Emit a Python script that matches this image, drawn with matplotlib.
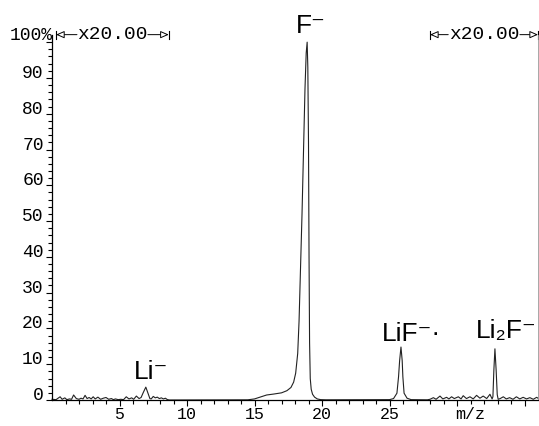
import numpy as np
import matplotlib
matplotlib.use("Agg")
import matplotlib.pyplot as plt
from matplotlib.transforms import blended_transform_factory

# Negative-ion spectrum, intensity in % of base peak (windows below 8.7 and above 28 shown x20)
mz_low = [0.0, 0.3, 0.45, 0.6, 0.75, 0.95, 1.1, 1.3, 1.45, 1.6, 1.8, 2.0, 2.15, 2.3,
          2.45, 2.6, 2.75, 2.9, 3.05, 3.2, 3.4, 3.6, 3.8, 4.0, 4.2, 4.4, 4.55, 4.7,
          4.9, 5.1, 5.3, 5.5, 5.7, 5.9, 6.05, 6.25, 6.45, 6.6, 6.75, 6.95, 7.1, 7.25,
          7.35, 7.5, 7.65, 7.8, 7.95, 8.1, 8.25, 8.4, 8.55, 8.7]
int_low = [0.2, 0.1, 0.5, 0.9, 0.2, 0.6, 0.1, 0.3, 0.2, 1.4, 0.4, 0.2, 0.5, 0.3,
           1.3, 0.4, 0.7, 0.3, 0.9, 0.3, 0.8, 0.2, 0.5, 0.7, 0.2, 0.4, 0.1, 0.3,
           0.1, 0.2, 0.1, 0.9, 0.3, 0.6, 0.2, 1.1, 0.4, 0.7, 2.0, 3.6, 2.0, 0.4,
           0.3, 1.0, 0.6, 0.8, 0.4, 0.6, 0.3, 0.5, 0.1, 0.0]

mz_f = [14.5, 15.0, 15.5, 15.9, 16.4, 17.0, 17.4, 17.7, 17.9, 18.05, 18.2, 18.3,
        18.4, 18.52, 18.63, 18.74, 18.83, 18.9, 18.95, 19.0, 19.04, 19.08, 19.13,
        19.2, 19.3, 19.45, 19.65, 19.9, 20.3]
int_f = [0.05, 0.3, 0.9, 1.4, 1.65, 2.0, 2.6, 3.5, 5.0, 7.5, 13, 22,
         36, 52, 70, 87, 97, 100, 93, 72, 40, 16, 6,
         3, 1.6, 0.8, 0.3, 0.1, 0.05]

mz_lif = [25.0, 25.3, 25.55, 25.67, 25.75, 25.85, 25.94, 25.99, 26.08, 26.3, 26.6, 27.8]
int_lif = [0.1, 0.4, 1.9, 6.5, 11, 14.8, 11, 6.5, 1.9, 0.5, 0.1, 0.05]

mz_high = [28.0, 28.25, 28.45, 28.74, 28.95, 29.23, 29.4, 29.6, 29.8, 30.1, 30.3,
           30.46, 30.7, 30.96, 31.2, 31.45, 31.7, 31.94, 32.2, 32.44, 32.6, 32.66,
           32.73, 32.81, 32.9, 32.98, 33.05, 33.2, 33.43, 33.65, 33.9, 34.15, 34.4,
           34.65, 34.9, 35.15, 35.4, 35.65, 35.9, 36.0]
int_high = [0.2, 0.65, 0.2, 1.1, 0.3, 0.75, 0.3, 0.9, 0.4, 0.9, 0.3,
            1.2, 0.4, 0.9, 0.3, 1.3, 0.5, 1.1, 0.4, 1.6, 0.3, 0.9,
            8.3, 14.3, 8.3, 1.5, 0.2, 0.4, 0.9, 0.3, 0.65, 0.2, 0.9,
            0.3, 0.75, 0.3, 0.65, 0.2, 0.75, 0.5]

peak_labels = ['Li\u207b', 'F\u207b', 'LiF\u207b\u00b7', 'Li\u2082F\u207b']
label_pos = [(6.06, 5.8), (18.03, 102.6), (24.46, 16.5), (31.4, 17.2)]

zoom_windows = [(0.3, 1.85, 7.1, 8.65), (28.0, 29.35, 34.66, 36.0)]
zoom_text = 'x20.00'

mz = np.concatenate([mz_low, mz_f, mz_lif, mz_high])
inten = np.concatenate([int_low, int_f, int_lif, int_high])

mono = 'Liberation Mono'
sans = ['Liberation Sans', 'DejaVu Sans']

fig = plt.figure(figsize=(5.39, 4.26), dpi=100)
ax = fig.add_axes([52 / 539, 26 / 426, 486 / 539, (426 - 35 - 26) / 426])

ax.plot(mz, inten, color='#222222', lw=0.8, clip_on=False)

ax.set_xlim(0, 36)
ax.set_ylim(0, 102)

ax.spines['top'].set_visible(False)
ax.spines['right'].set_color('#999999')
ax.spines['right'].set_linewidth(0.6)
ax.spines['left'].set_linewidth(0.9)
ax.spines['bottom'].set_linewidth(0.9)

ax.set_xticks([5, 10, 15, 20, 25, 30, 35])
ax.set_xticklabels(['5', '10', '15', '20', '25', '', ''], fontfamily=mono, fontsize=12)
ax.set_xticks(np.arange(1, 36), minor=True)
ax.tick_params(axis='x', which='major', length=4.5, width=0.8, pad=0.5, direction='out')
ax.tick_params(axis='x', which='minor', length=3, width=0.8, direction='out')

ax.set_yticks(np.arange(0, 101, 10))
ax.set_yticklabels([str(v) for v in range(0, 100, 10)] + [''],
                   fontfamily=mono, fontsize=13, va='baseline')
ax.set_yticks(np.arange(0, 101, 2), minor=True)
ax.tick_params(axis='y', which='major', length=4.5, width=0.8, pad=1.5, direction='out')
ax.tick_params(axis='y', which='minor', length=3, width=0.8, direction='out')

# axis captions drawn by hand
ax.text(31.0, -1.85, 'm/z', fontfamily=mono, fontsize=12, ha='center', va='top', clip_on=False)
trans = blended_transform_factory(fig.transFigure, ax.transData)
ax.text(10 / 539, 100.5, '100%', transform=trans, fontfamily=mono, fontsize=13,
        ha='left', va='baseline')

for txt, (x, y) in zip(peak_labels, label_pos):
    ax.text(x, y, txt, family=sans, fontsize=19, ha='left', va='baseline', clip_on=False)

# x20 magnification markers
ybar = 102.1
for bar_l, txt_l, txt_r, bar_r in zoom_windows:
    ax.text((txt_l + txt_r) / 2, ybar, zoom_text, fontfamily=mono, fontsize=14,
            ha='center', va='center', clip_on=False)
    for start, tip in [(txt_l, bar_l), (txt_r, bar_r)]:
        ax.annotate('', xy=(tip, ybar), xytext=(start, ybar), annotation_clip=False,
                    arrowprops=dict(arrowstyle='-|>,head_length=0.5,head_width=0.22',
                                    fc='white', ec='black', lw=0.7,
                                    shrinkA=0, shrinkB=0))
        ax.plot([tip, tip], [ybar - 1.1, ybar + 1.1], color='black', lw=0.8, clip_on=False)

fig.savefig('out.png', dpi=100)
